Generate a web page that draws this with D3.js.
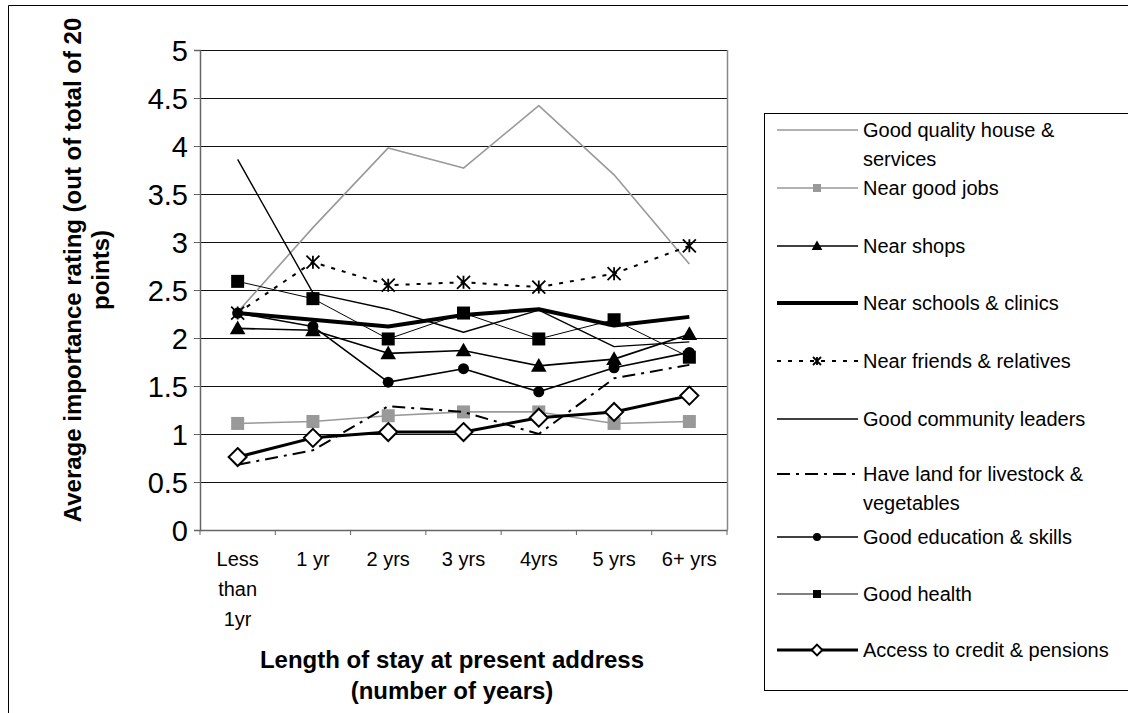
<!DOCTYPE html>
<html><head><meta charset="utf-8">
<script src="https://cdn.jsdelivr.net/npm/d3@7/dist/d3.min.js"></script>
<style>body{margin:0;background:#fff}svg{display:block;font-family:"Liberation Sans",Arial,sans-serif}</style>
</head><body><svg id="c" width="1128" height="713"></svg>
<script>
const categories = ["Less than 1yr","1 yr","2 yrs","3 yrs","4yrs","5 yrs","6+ yrs"];
const categoryLines = [["Less","than","1yr"],["1 yr"],["2 yrs"],["3 yrs"],["4yrs"],["5 yrs"],["6+ yrs"]];
const yTicks = [0,0.5,1,1.5,2,2.5,3,3.5,4,4.5,5];
const seriesNames = ["Good quality house & services","Near good jobs","Near shops","Near schools & clinics","Near friends & relatives","Good community leaders","Have land for livestock & vegetables","Good education & skills","Good health","Access to credit & pensions"];
const legendLines = [["Good quality house &","services"],["Near good jobs"],["Near shops"],["Near schools & clinics"],["Near friends & relatives"],["Good community leaders"],["Have land for livestock &","vegetables"],["Good education & skills"],["Good health"],["Access to credit & pensions"]];
const houseServices = [2.27,3.15,3.98,3.77,4.42,3.70,2.77];
const goodJobs      = [1.11,1.13,1.19,1.23,1.23,1.11,1.13];
const shops         = [2.10,2.08,1.84,1.87,1.71,1.78,2.04];
const schoolsClinics= [2.26,2.19,2.12,2.24,2.30,2.13,2.22];
const friends       = [2.26,2.79,2.55,2.58,2.53,2.67,2.96];
const community     = [3.86,2.47,2.30,2.06,2.29,1.91,1.96];
const land          = [0.68,0.83,1.29,1.23,1.00,1.58,1.72];
const education     = [2.26,2.12,1.54,1.68,1.44,1.69,1.85];
const health        = [2.59,2.41,1.99,2.26,1.99,2.19,1.80];
const credit        = [0.76,0.96,1.02,1.02,1.17,1.23,1.40];
const seriesValues = [houseServices,goodJobs,shops,schoolsClinics,friends,community,land,education,health,credit];

const styles = [
  {color:"#999",width:1.6,dash:null,marker:null},
  {color:"#999",width:1.6,dash:null,marker:"square",fill:"#999"},
  {color:"#000",width:1.6,dash:null,marker:"triangle",fill:"#000"},
  {color:"#000",width:4,dash:null,marker:null},
  {color:"#000",width:2,dash:"4,7",marker:"star"},
  {color:"#000",width:1.4,dash:null,marker:null},
  {color:"#000",width:2,dash:"13,6,3,6",marker:null},
  {color:"#000",width:1.6,dash:null,marker:"circle",fill:"#000"},
  {color:"#000",width:1.0,dash:null,marker:"square",fill:"#000"},
  {color:"#000",width:3,dash:null,marker:"diamond",fill:"#fff"}
];
// legend text centre rows (first line of each entry)
const legendRows = [130,188,246,303,361,419,474,537,594,650];

const svg = d3.select("#c");
const L=200,R=727,T=50,B=530;
const x = d3.scaleBand().domain(categories).range([L,R]).padding(0);
const y = d3.scaleLinear().domain([0,5]).range([B,T]);
const cx = c => x(c)+x.bandwidth()/2;

// outer border
svg.append("path").attr("d","M8.5,720 V5.5 H1135").attr("fill","none").attr("stroke","#000").attr("stroke-width",1);

// gridlines
svg.append("g").selectAll("line").data(yTicks.filter(v=>v>0)).join("line")
  .attr("x1",L).attr("x2",R).attr("y1",d=>Math.round(y(d))+0.5).attr("y2",d=>Math.round(y(d))+0.5)
  .attr("stroke","#111").attr("stroke-width",1);
// right plot border
svg.append("line").attr("x1",R+0.5).attr("x2",R+0.5).attr("y1",T).attr("y2",B).attr("stroke","#888").attr("stroke-width",1.5);

// y axis
const ya = svg.append("g").attr("transform",`translate(${L},0)`).call(d3.axisLeft(y).tickValues(yTicks).tickSize(6).tickPadding(6).tickFormat(d=>String(d)));
ya.select(".domain").attr("stroke","#666").attr("stroke-width",1.5);
ya.selectAll(".tick line").attr("stroke","#666");
ya.selectAll("text").attr("font-size",29).attr("font-family","Liberation Sans, Arial").attr("fill","#000").attr("dy","0.36em");

// x axis
const xa = svg.append("g").attr("transform",`translate(0,${B})`).call(d3.axisBottom(x).tickSize(0).tickFormat(""));
xa.select(".domain").attr("stroke","#666").attr("stroke-width",1.5);
svg.append("g").selectAll("line").data(d3.range(categories.length+1)).join("line")
  .attr("x1",i=>L+i*x.bandwidth()).attr("x2",i=>L+i*x.bandwidth()).attr("y1",B).attr("y2",B+5).attr("stroke","#666").attr("stroke-width",1);
categories.forEach((c,i)=>{
  categoryLines[i].forEach((t,j)=>{
    svg.append("text").attr("x",cx(c)).attr("y",566+j*30).attr("text-anchor","middle").attr("font-size",20).text(t);
  });
});

// axis titles
svg.append("text").attr("x",452).attr("y",668).attr("text-anchor","middle").attr("font-size",24).attr("font-weight","bold").text("Length of stay at present address");
svg.append("text").attr("x",452).attr("y",699).attr("text-anchor","middle").attr("font-size",24).attr("font-weight","bold").text("(number of years)");
const yt = svg.append("g").attr("transform","translate(81,270) rotate(-90)");
yt.append("text").attr("x",0).attr("y",0).attr("text-anchor","middle").attr("font-size",24).attr("font-weight","bold").text("Average importance rating (out of total of 20");
yt.append("text").attr("x",0).attr("y",28).attr("text-anchor","middle").attr("font-size",24).attr("font-weight","bold").text("points)");

// markers
function marker(g, type, px, py, s, fill){
  if(!type) return;
  if(type==="square") g.append("rect").attr("x",px-s/2).attr("y",py-s/2).attr("width",s).attr("height",s).attr("fill",fill);
  else if(type==="triangle") g.append("path").attr("d",`M${px},${py-s*0.6}L${px+s*0.6},${py+s*0.45}L${px-s*0.6},${py+s*0.45}Z`).attr("fill",fill);
  else if(type==="circle") g.append("circle").attr("cx",px).attr("cy",py).attr("r",s/2).attr("fill",fill);
  else if(type==="diamond") g.append("path").attr("d",`M${px},${py-s*0.6}L${px+s*0.6},${py}L${px},${py+s*0.6}L${px-s*0.6},${py}Z`).attr("fill",fill).attr("stroke","#000").attr("stroke-width",2);
  else if(type==="star"){ const r=s/2; g.append("path").attr("d",`M${px-r},${py-r}L${px+r},${py+r}M${px+r},${py-r}L${px-r},${py+r}M${px},${py-r}L${px},${py+r}`).attr("stroke","#000").attr("stroke-width",1.8).attr("fill","none"); }
}
const markerSize = {square:13,triangle:13,circle:11,diamond:15,star:13};

const line = d3.line().x((d,i)=>cx(categories[i])).y(d=>y(d));
const plot = svg.append("g");
seriesValues.forEach((vals,k)=>{
  const st = styles[k];
  const g = plot.append("g");
  g.append("path").datum(vals).attr("d",line).attr("fill","none").attr("stroke",st.color).attr("stroke-width",st.width).attr("stroke-dasharray",st.dash).attr("stroke-linejoin","round");
  vals.forEach((v,i)=>marker(g, st.marker, cx(categories[i]), y(v), markerSize[st.marker], st.fill));
});

// legend
svg.append("rect").attr("x",764.5).attr("y",113.5).attr("width",400).attr("height",577).attr("fill","none").attr("stroke","#000").attr("stroke-width",1);
const legSize = {square:8,triangle:9,circle:8,diamond:9,star:8};
seriesNames.forEach((n,k)=>{
  const st = styles[k];
  const yy = legendRows[k];
  const g = svg.append("g");
  g.append("line").attr("x1",777).attr("x2",858).attr("y1",yy).attr("y2",yy).attr("stroke",st.color).attr("stroke-width",st.width).attr("stroke-dasharray",st.dash);
  marker(g, st.marker, 817, yy, legSize[st.marker], st.fill);
  legendLines[k].forEach((t,j)=>{
    g.append("text").attr("x",863).attr("y",yy+7+j*29).attr("font-size",20).text(t);
  });
});
</script></body></html>
